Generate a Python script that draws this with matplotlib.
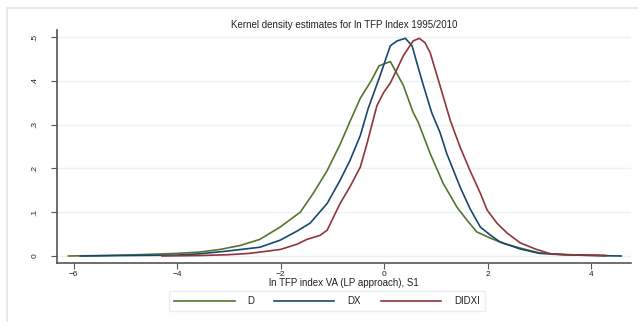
import matplotlib
matplotlib.use("Agg")
import matplotlib.pyplot as plt
from matplotlib.patches import Rectangle
from matplotlib.ticker import FuncFormatter

plt.rcParams["font.family"] = ["Liberation Sans", "DejaVu Sans"]

# density curves
d_x = [-6.1, -5.5, -4.72, -4.0, -3.56, -3.17, -2.78, -2.4, -2.01, -1.62, -1.37, -1.1, -0.85,
       -0.66, -0.46, -0.25, -0.1, 0.12, 0.37, 0.56, 0.66, 0.89, 1.14, 1.41, 1.6, 1.79, 2.05,
       2.3, 2.63, 3.0, 3.5, 4.0, 4.3]
d_y = [0.0, 0.001, 0.003, 0.006, 0.009, 0.015, 0.024, 0.038, 0.066, 0.1, 0.143, 0.195, 0.255,
       0.307, 0.36, 0.4, 0.434, 0.444, 0.39, 0.328, 0.305, 0.234, 0.166, 0.111, 0.082, 0.055, 0.041,
       0.029, 0.018, 0.007, 0.003, 0.002, 0.001]

dx_x = [-5.87, -5.0, -4.0, -3.56, -3.05, -2.4, -2.01, -1.68, -1.43, -1.1, -0.85, -0.66, -0.46,
        -0.31, -0.08, 0.12, 0.25, 0.41, 0.54, 0.63, 0.76, 0.92, 1.08, 1.21, 1.47, 1.66, 1.86,
        2.05, 2.24, 2.63, 3.0, 3.5, 4.0, 4.58]
dx_y = [0.0, 0.001, 0.002, 0.005, 0.011, 0.02, 0.036, 0.057, 0.075, 0.12, 0.173, 0.218, 0.275,
        0.336, 0.411, 0.48, 0.491, 0.497, 0.48, 0.442, 0.389, 0.327, 0.282, 0.234, 0.157, 0.108, 0.066,
        0.048, 0.032, 0.016, 0.006, 0.003, 0.001, 0.0]

didxi_x = [-4.29, -3.56, -3.0, -2.6, -2.26, -2.0, -1.68, -1.49, -1.24, -1.1, -0.85, -0.66,
           -0.46, -0.33, -0.14, -0.01, 0.12, 0.25, 0.37, 0.56, 0.68, 0.79, 0.89, 1.08, 1.28,
           1.47, 1.66, 1.86, 1.99, 2.18, 2.38, 2.63, 2.92, 3.24, 3.5, 4.0, 4.27]
didxi_y = [0.0, 0.001, 0.003, 0.006, 0.011, 0.015, 0.027, 0.038, 0.047, 0.059, 0.12, 0.158,
           0.203, 0.257, 0.343, 0.373, 0.395, 0.427, 0.457, 0.491, 0.497, 0.487, 0.464, 0.389, 0.309,
           0.248, 0.195, 0.143, 0.105, 0.075, 0.052, 0.03, 0.016, 0.004, 0.003, 0.002, 0.001]

x_ticks = [-6, -4, -2, 0, 2, 4]
y_ticks = [0, 0.1, 0.2, 0.3, 0.4, 0.5]

fig = plt.figure(figsize=(6.38, 3.22), dpi=100)
fig.patch.set_facecolor("white")

# light outer frame (cropped at right and bottom like the reference)
fig.patches.append(Rectangle((6.5 / 638, -0.05), 1.0, 1 - 7.5 / 322 + 0.05,
                             transform=fig.transFigure, fill=False,
                             edgecolor="#e3ebef", linewidth=1.5))

ax = fig.add_axes([57 / 638, 1 - 263 / 322, (631 - 57) / 638, (263 - 30) / 322])

ax.plot(d_x, d_y, color="#55752f", lw=1.2, label="D")
ax.plot(dx_x, dx_y, color="#1a476f", lw=1.2, label="DX")
ax.plot(didxi_x, didxi_y, color="#90353b", lw=1.2, label="DIDXI")

ax.set_xlim(-6.32, 4.77)
ax.set_ylim(-0.016, 0.516)
ax.set_xticks(x_ticks)
ax.set_yticks(y_ticks)
ax.yaxis.set_major_formatter(FuncFormatter(lambda v, p: "0" if v == 0 else ("%.1f" % v).lstrip("0")))
ax.grid(axis="y", color="#eaf2f3", lw=1.0)
ax.set_axisbelow(True)

for s in ["top", "right"]:
    ax.spines[s].set_visible(False)
for s in ["left", "bottom"]:
    ax.spines[s].set_color("#555555")
    ax.spines[s].set_linewidth(1.2)

ax.tick_params(axis="both", direction="out", length=4, width=0.8, color="#555555",
               labelsize=6, labelcolor="#222222")
ax.tick_params(axis="x", pad=1.5)
ax.tick_params(axis="y", length=4.5, pad=9)
plt.setp(ax.get_yticklabels(), rotation=90, va="center")

ax.set_title("Kernel density estimates for ln TFP Index 1995/2010", fontsize=7,
             color="#222222", pad=1.5)
ax.set_xlabel("ln TFP index VA (LP approach), S1", fontsize=7, color="#222222", labelpad=0)

leg = fig.legend(loc="center", bbox_to_anchor=((168 + 486) / 2 / 638, 1 - 301 / 322),
                 ncol=3, fontsize=7, frameon=True, fancybox=False,
                 handlelength=6.2, handletextpad=1.35, columnspacing=2.0,
                 borderpad=0.55)
leg.get_frame().set_edgecolor("#e3ebef")
leg.get_frame().set_linewidth(1.0)
for t in leg.get_texts():
    t.set_color("#222222")

fig.savefig("out.png", dpi=100)
